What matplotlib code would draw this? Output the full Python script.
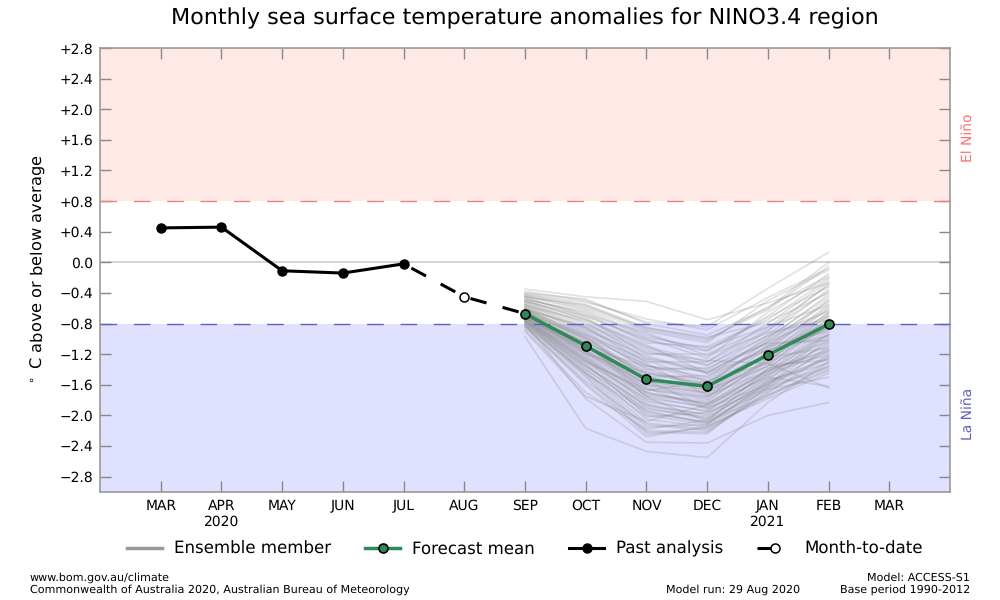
import matplotlib
matplotlib.use('Agg')
import matplotlib.pyplot as plt
from matplotlib.lines import Line2D

plt.rcParams['text.hinting'] = 'no_hinting'

tick_months = ['MAR', 'APR\n2020', 'MAY', 'JUN', 'JUL', 'AUG', 'SEP', 'OCT', 'NOV', 'DEC', 'JAN\n2021', 'FEB', 'MAR']
month_pos = [1, 2, 3, 4, 5, 6, 7, 8, 9, 10, 11, 12, 13]
y_ticks = [2.8, 2.4, 2.0, 1.6, 1.2, 0.8, 0.4, 0.0, -0.4, -0.8, -1.2, -1.6, -2.0, -2.4, -2.8]
y_labels = ['+2.8', '+2.4', '+2.0', '+1.6', '+1.2', '+0.8', '+0.4', '0.0', '\u22120.4', '\u22120.8', '\u22121.2', '\u22121.6', '\u22122.0', '\u22122.4', '\u22122.8']

past_x = [1, 2, 3, 4, 5]
past_values = [0.45, 0.46, -0.11, -0.14, -0.02]
mtd_x = [5, 6, 7]
mtd_values = [-0.02, -0.45, -0.67]
forecast_x = [7, 8, 9, 10, 11, 12]
forecast_mean = [-0.67, -1.09, -1.53, -1.62, -1.21, -0.81]

# each row is one member, SEP to FEB
ensemble = [
    [-0.35, -0.45, -0.51, -0.75, -0.53, -0.27],
    [-0.38, -0.50, -0.78, -0.84, -0.34, 0.13],
    [-0.97, -2.17, -2.47, -2.55, -1.83, -1.30],
    [-0.80, -1.78, -2.35, -2.36, -2.00, -1.83],
    [-0.40, -0.48, -0.80, -0.95, -0.60, 0.00],
    [-0.42, -0.55, -0.85, -1.00, -0.62, -0.05],
    [-0.44, -0.60, -0.90, -1.05, -0.50, -0.10],
    [-0.45, -0.62, -0.95, -1.15, -0.70, -0.15],
    [-0.46, -0.70, -1.00, -1.25, -0.65, -0.20],
    [-0.48, -0.66, -1.05, -1.10, -0.75, -0.22],
    [-0.50, -0.75, -1.10, -1.30, -0.80, -0.25],
    [-0.50, -0.72, -1.20, -1.20, -0.85, -0.30],
    [-0.52, -0.80, -1.15, -1.35, -0.90, -0.28],
    [-0.54, -0.78, -1.25, -1.40, -0.95, -0.35],
    [-0.55, -0.85, -1.30, -1.30, -0.88, -0.38],
    [-0.56, -0.88, -1.22, -1.45, -1.00, -0.42],
    [-0.58, -0.90, -1.35, -1.50, -0.98, -0.45],
    [-0.58, -0.92, -1.40, -1.38, -1.05, -0.48],
    [-0.60, -0.95, -1.28, -1.55, -1.10, -0.50],
    [-0.60, -0.98, -1.45, -1.60, -1.02, -0.52],
    [-0.61, -1.00, -1.50, -1.48, -1.15, -0.55],
    [-0.62, -0.94, -1.38, -1.65, -1.12, -0.58],
    [-0.62, -1.02, -1.55, -1.70, -1.20, -0.60],
    [-0.63, -1.05, -1.42, -1.58, -1.08, -0.62],
    [-0.64, -1.08, -1.60, -1.75, -1.25, -0.65],
    [-0.64, -1.00, -1.48, -1.68, -1.18, -0.66],
    [-0.65, -1.10, -1.65, -1.80, -1.30, -0.68],
    [-0.65, -1.12, -1.52, -1.62, -1.22, -0.70],
    [-0.66, -1.06, -1.70, -1.85, -1.35, -0.72],
    [-0.66, -1.15, -1.58, -1.72, -1.28, -0.74],
    [-0.67, -1.18, -1.75, -1.90, -1.40, -0.75],
    [-0.67, -1.08, -1.62, -1.78, -1.16, -0.78],
    [-0.68, -1.20, -1.80, -1.95, -1.45, -0.80],
    [-0.68, -1.14, -1.68, -1.55, -1.32, -0.82],
    [-0.69, -1.22, -1.85, -2.00, -1.50, -0.84],
    [-0.69, -1.16, -1.72, -1.82, -1.26, -0.85],
    [-0.70, -1.25, -1.90, -2.05, -1.55, -0.88],
    [-0.70, -1.04, -1.46, -1.52, -1.10, -0.90],
    [-0.71, -1.28, -1.95, -2.10, -1.60, -0.92],
    [-0.71, -1.10, -1.56, -1.66, -1.36, -0.94],
    [-0.72, -1.30, -1.78, -1.88, -1.42, -0.95],
    [-0.72, -1.18, -1.64, -1.92, -1.48, -0.98],
    [-0.73, -1.32, -2.00, -2.12, -1.62, -1.00],
    [-0.73, -1.12, -1.36, -1.42, -1.06, -1.02],
    [-0.74, -1.35, -1.88, -1.98, -1.52, -1.05],
    [-0.74, -1.24, -1.74, -1.84, -1.44, -1.08],
    [-0.75, -1.38, -2.05, -2.15, -1.65, -1.10],
    [-0.75, -1.20, -1.44, -1.60, -1.24, -1.12],
    [-0.76, -1.40, -1.92, -2.02, -1.58, -1.15],
    [-0.76, -1.26, -1.82, -1.94, -1.46, -1.18],
    [-0.77, -1.42, -2.10, -2.18, -1.70, -1.20],
    [-0.77, -1.34, -1.98, -2.08, -1.38, -1.22],
    [-0.78, -1.45, -2.15, -2.12, -1.56, -1.25],
    [-0.78, -1.30, -1.66, -1.76, -1.34, -1.28],
    [-0.80, -1.48, -2.20, -2.22, -1.68, -1.30],
    [-0.80, -1.36, -1.86, -2.04, -1.54, -1.32],
    [-0.82, -1.50, -2.25, -2.16, -1.75, -1.35],
    [-0.82, -1.44, -2.02, -1.96, -1.64, -1.38],
    [-0.84, -1.55, -2.12, -2.20, -1.72, -1.40],
    [-0.85, -1.60, -2.28, -2.14, -1.78, -1.45],
    [-0.88, -1.70, -2.18, -2.06, -1.66, -1.50],
    [-0.90, -1.75, -2.08, -1.86, -1.50, -1.62],
    [-0.55, -0.82, -1.18, -1.28, -1.32, -1.64],
    [-0.47, -0.68, -0.92, -1.22, -0.92, -0.75],
    [-0.52, -0.74, -1.08, -1.45, -1.14, -0.96],
    [-0.60, -0.86, -1.32, -1.74, -1.42, -1.14],
    [-0.64, -0.96, -1.54, -1.90, -1.60, -1.26],
    [-0.70, -1.06, -1.76, -2.08, -1.74, -1.42],
    [-0.43, -0.58, -0.86, -0.98, -0.78, -0.40],
    [-0.49, -0.64, -0.98, -1.12, -0.84, -0.56],
    [-0.57, -0.76, -1.12, -1.34, -0.96, -0.64],
    [-0.62, -0.84, -1.26, -1.44, -1.04, -0.70],
    [-0.66, -0.98, -1.34, -1.56, -1.20, -0.86],
    [-0.72, -1.16, -1.60, -1.70, -1.30, -1.04],
    [-0.76, -1.28, -1.70, -1.86, -1.40, -1.16],
    [-0.79, -1.46, -1.94, -2.10, -1.58, -1.24],
    [-0.83, -1.58, -2.22, -2.24, -1.62, -1.36],
    [-0.41, -0.52, -0.74, -0.88, -0.46, -0.08],
    [-0.45, -0.56, -0.88, -1.02, -0.58, -0.18],
    [-0.51, -0.70, -1.02, -1.16, -0.72, -0.32],
]

fig = plt.figure(figsize=(10, 6), dpi=100)
ax = fig.add_axes([0.1, 0.18, 0.85, 0.74])

ax.axhspan(0.8, 2.8, facecolor='#FFE9E7', edgecolor='none', zorder=0)
ax.axhspan(-3.0, -0.8, facecolor='#E0E0FF', edgecolor='none', zorder=0)
ax.axhline(0, color='#CCCCCC', lw=1.2, zorder=1)
ax.axhline(0.8, color='#F08080', lw=1, dashes=(12, 12), zorder=3)
ax.axhline(-0.8, color='#6060C0', lw=1, dashes=(12, 12), zorder=3)

for member in ensemble:
    ax.plot(forecast_x, member, color='#888888', alpha=0.25, lw=1.2, zorder=2)

ax.plot(forecast_x, forecast_mean, color='#2E8B57', lw=2.5, marker='o', ms=6.5,
        mfc='#2E8B57', mec='black', mew=1.2, zorder=6)
ax.plot(past_x, past_values, color='black', lw=2.2, marker='o', ms=6.5, zorder=5)
ax.plot(mtd_x, mtd_values, color='black', lw=2.2, ls=(8, (5.45, 5.45)), zorder=4)
ax.plot(mtd_x[1], mtd_values[1], color='black', marker='o', ms=6.5, mfc='white', mew=1.1, zorder=5)

ax.set_xlim(0, 14)
ax.set_ylim(-3.0, 2.8)
ax.set_xticks(month_pos)
ax.set_xticklabels(tick_months, fontsize=10)
ax.set_yticks(y_ticks)
ax.set_yticklabels(y_labels, fontsize=10)
ax.tick_params(direction='in', length=8, width=1, color='#888888', top=True, right=True)
ax.tick_params(axis='y', pad=5)
ax.tick_params(axis='x', pad=5.5)
for spine in ax.spines.values():
    spine.set_color('#999999')
    spine.set_linewidth(1.2)

ax.set_ylabel(r'$^\circ$ C above or below average', fontsize=11.7)
ax.yaxis.set_label_coords(-0.061, 0.5)
fig.text(0.525, 0.97, 'Monthly sea surface temperature anomalies for NINO3.4 region',
         ha='center', va='center', fontsize=16)

fig.text(0.9685, 0.77, 'El Niño', rotation=90, color='#FF7070', ha='center', va='center', fontsize=10)
fig.text(0.9685, 0.31, 'La Niña', rotation=90, color='#6060C0', ha='center', va='center', fontsize=10)

handles = [
    Line2D([], [], color='#999999', lw=2.5),
    Line2D([], [], color='#2E8B57', lw=2.5, marker='o', ms=6.5, mfc='#2E8B57', mec='black', mew=1.2),
    Line2D([], [], color='black', lw=2.2, marker='o', ms=6.5),
    Line2D([], [], color='black', lw=2.2, dashes=(5.5, 8), marker='o', ms=6.5, mfc='white', mew=1.1),
]
legend_labels = ['Ensemble member', 'Forecast mean', 'Past analysis', 'Month-to-date']
fig.legend(handles, legend_labels, loc='center', bbox_to_anchor=(0.525, 0.085), ncol=4, frameon=False,
           fontsize=12, handlelength=2.1, handletextpad=0.72, columnspacing=2.04)

fig.text(0.03, 0.0367, 'www.bom.gov.au/climate', fontsize=8, va='center')
fig.text(0.03, 0.0167, 'Commonwealth of Australia 2020, Australian Bureau of Meteorology', fontsize=8, va='center')
fig.text(0.8, 0.0167, 'Model run: 29 Aug 2020', fontsize=8, va='center', ha='right')
fig.text(0.97, 0.0367, 'Model: ACCESS-S1', fontsize=8, va='center', ha='right')
fig.text(0.97, 0.0167, 'Base period 1990-2012', fontsize=8, va='center', ha='right')

fig.savefig('out.png', dpi=100)
